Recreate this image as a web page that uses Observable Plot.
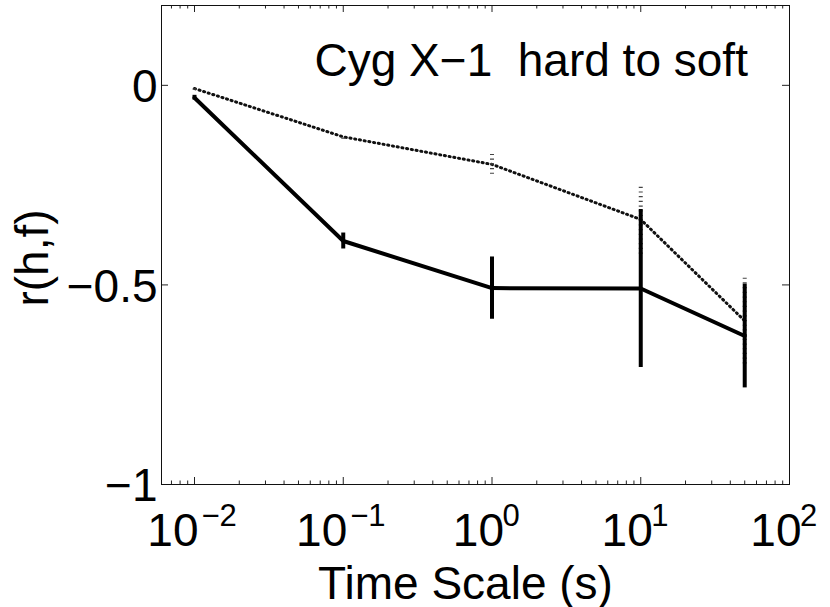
<!DOCTYPE html>
<html>
<head>
<meta charset="utf-8">
<script src="https://cdn.jsdelivr.net/npm/d3@7"></script>
<script src="https://cdn.jsdelivr.net/npm/@observablehq/plot@0.6"></script>
<style>
  html, body { margin: 0; padding: 0; background: white; }
</style>
</head>
<body>
<div id="chart"></div>
<script>
// ---- data ----
const timeScale = [0.01, 0.1, 1, 10, 50];          // s
const rSolid    = [-0.031, -0.39, -0.508, -0.509, -0.628];
const errSolid  = [0.006, 0.02, 0.078, 0.198, 0.13];
const rDotted   = [-0.008, -0.129, -0.198, -0.336, -0.59];
const errDotted = [0.004, 0.006, 0.025, 0.087, 0.108];

const xTicks     = [0.01, 0.1, 1, 10, 100];
const xExponents = ["−2", "−1", "0", "1", "2"];
const yTicks      = [-1, -0.5, 0];
const yTickLabels = ["−1", "−0.5", "0"];
const xMinorMantissas = [2, 3, 4, 5, 6, 7, 8, 9];
const xMinorDecades   = [0.001, 0.01, 0.1, 1, 10];

const titleText = "Cyg X−1\u00a0 hard to soft";
const xLabel = "Time Scale (s)";
const yLabel = "r(h,f)";

// ---- layout ----
const W = 830, H = 607;
const mL = 161, mR = 41, mT = 5, mB = 123;
const plotW = W - mL - mR, plotH = H - mT - mB;
const xDomain = [0.006, 100];

const solid = timeScale.map((t, i) => ({t, r: rSolid[i], e: errSolid[i]}));
const dotted = timeScale.map((t, i) => ({t, r: rDotted[i], e: errDotted[i]}));
const xMinor = xMinorDecades.flatMap(d => xMinorMantissas.map(m => m * d))
  .filter(v => v > xDomain[0] && v < xDomain[1]);
const xTickData = xTicks.map((v, i) => ({v, exp: xExponents[i], neg: xExponents[i].startsWith("−")}));

const majorLen = 7, minorLen = 3.5;
const font = 46, supFont = 31;

const chart = Plot.plot({
  width: W, height: H,
  marginLeft: mL, marginRight: mR, marginTop: mT, marginBottom: mB,
  x: {type: "log", domain: xDomain, axis: null},
  y: {domain: [-1, 0.2], axis: null},
  style: {fontFamily: "'Liberation Sans', Arial, Helvetica, sans-serif", background: "white", color: "black"},
  marks: [
    // ticks (inward, MATLAB box style)
    Plot.ruleX(xTicks, {x: d => d, insetTop: plotH - majorLen, stroke: "#222", strokeWidth: 1}),
    Plot.ruleX(xTicks, {x: d => d, insetBottom: plotH - majorLen, stroke: "#222", strokeWidth: 1}),
    Plot.ruleX(xMinor, {x: d => d, insetTop: plotH - minorLen, stroke: "#222", strokeWidth: 1}),
    Plot.ruleX(xMinor, {x: d => d, insetBottom: plotH - minorLen, stroke: "#222", strokeWidth: 1}),
    Plot.ruleY(yTicks, {y: d => d, insetRight: plotW - majorLen, stroke: "#222", strokeWidth: 1}),
    Plot.ruleY(yTicks, {y: d => d, insetLeft: plotW - majorLen, stroke: "#222", strokeWidth: 1}),
    Plot.frame({stroke: "#111", strokeWidth: 1}),

    // dotted series
    Plot.line(dotted, {x: "t", y: "r", stroke: "#111", strokeWidth: 3, strokeDasharray: "1.1,3.7"}),
    Plot.ruleX(dotted, {x: "t", y1: d => d.r - d.e, y2: d => d.r + d.e, stroke: "#444", strokeWidth: 4, strokeDasharray: "1.2,3.5"}),

    // solid series
    Plot.line(solid, {x: "t", y: "r", stroke: "black", strokeWidth: 4}),
    Plot.ruleX(solid, {x: "t", y1: d => d.r - d.e, y2: d => d.r + d.e, stroke: "black", strokeWidth: 4}),

    // y tick labels
    Plot.text(yTicks, {y: d => d, text: (d, i) => yTickLabels[i], frameAnchor: "left", textAnchor: "end",
      lineAnchor: "middle", dx: -4, dy: 2, fontSize: font, fill: "black"}),

    // x tick labels: 10^n
    Plot.text(xTickData.filter(d => d.neg), {x: "v", text: () => "10", frameAnchor: "bottom", textAnchor: "end",
      lineAnchor: "bottom", dx: 4, dy: 61, fontSize: font, fill: "black"}),
    Plot.text(xTickData.filter(d => d.neg), {x: "v", text: "exp", frameAnchor: "bottom", textAnchor: "start",
      lineAnchor: "bottom", dx: 7, dy: 41, fontSize: supFont, fill: "black"}),
    Plot.text(xTickData.filter(d => !d.neg), {x: "v", text: () => "10", frameAnchor: "bottom", textAnchor: "end",
      lineAnchor: "bottom", dx: 12, dy: 61, fontSize: font, fill: "black"}),
    Plot.text(xTickData.filter(d => !d.neg), {x: "v", text: "exp", frameAnchor: "bottom", textAnchor: "start",
      lineAnchor: "bottom", dx: 10.5, dy: 41, fontSize: supFont, fill: "black"}),

    // axis labels
    Plot.text([xLabel], {text: d => d, frameAnchor: "bottom", textAnchor: "middle", lineAnchor: "bottom",
      dx: -10, dy: 114, fontSize: font, fill: "black"}),
    Plot.text([yLabel], {text: d => d, frameAnchor: "left", textAnchor: "middle", lineAnchor: "bottom",
      rotate: -90, dx: -114, dy: 13, fontSize: font, fill: "black"}),

    // in-plot title
    Plot.text([titleText], {text: d => d, frameAnchor: "top-left", textAnchor: "start", lineAnchor: "bottom",
      dx: 153, dy: 70, fontSize: 46, fill: "black"})
  ]
});
document.getElementById("chart").appendChild(chart);
</script>
</body>
</html>
